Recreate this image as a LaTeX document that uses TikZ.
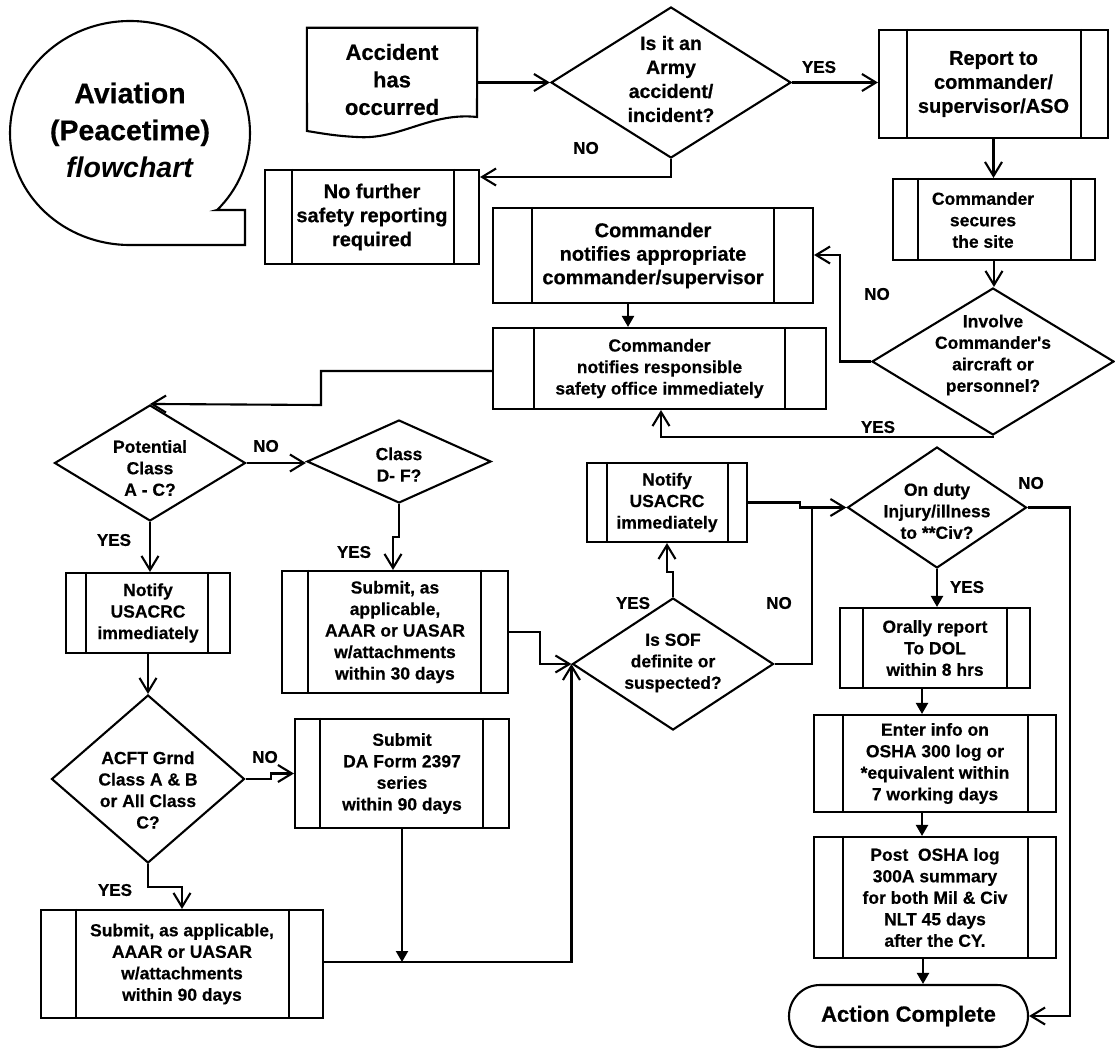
\documentclass[tikz,border=0pt]{standalone}
\usepackage{fontspec}
\setmainfont{Liberation Sans}[BoldFeatures={FakeBold=0.5}]
\usetikzlibrary{shapes.geometric,shapes.misc,arrows.meta}
\tikzset{
  ln/.style={line width=2.1pt},
  pbox/.style={draw, line width=2.1pt, rectangle, inner sep=0pt, align=center,
    font=\bfseries\fontsize{17.5}{21.5}\selectfont},
  bigtext/.style={font=\bfseries\fontsize{20}{24}\selectfont},
  dmd/.style={draw, line width=2.1pt, diamond, inner sep=0pt},
  dtext/.style={align=center, inner sep=0pt, font=\bfseries\fontsize{17.5}{21.5}\selectfont},
  lbl/.style={inner sep=0pt, font=\bfseries\fontsize{17}{20}\selectfont},
  varrow/.style={line width=2.1pt, -{Straight Barb[length=14pt,width=17pt]}},
  farrow/.style={line width=2.1pt, -{Triangle[length=11pt,width=12pt]}},
}
\newcommand\sidebars[3]{%
  \draw[ln] ([xshift=#2]#1.north west) -- ([xshift=#2]#1.south west);
  \draw[ln] ([xshift=-#3]#1.north east) -- ([xshift=-#3]#1.south east);}
\begin{document}
\begin{tikzpicture}[x=1pt,y=-1pt]
\fill[white] (0,0) rectangle (1115,1049);
\useasboundingbox (0,0) rectangle (1115,1049);

% speech bubble
\draw[ln] (217,210) -- (245,210) -- (245,245) -- (130,245)
  arc[start angle=270, end angle=-43.4, x radius=120pt, y radius=112pt] -- cycle;
\node[align=center, inner sep=0pt, font=\bfseries\fontsize{28.5}{37}\selectfont] (title) at (130,130)
  {Aviation\\(Peacetime)\\\textit{flowchart}};

% document shape
\node[minimum width=170pt, minimum height=103pt, inner sep=0pt, align=center,
  font=\bfseries\fontsize{22}{27.5}\selectfont] (acc) at (392,79.5) {Accident\\has\\occurred};
\draw[ln] (acc.north west) -- (acc.north east) -- (477,117)
  .. controls (430,112) and (400,140) .. (357,137)
  .. controls (335,136) and (320,133) .. (307,131) -- cycle;

% process boxes
\node[pbox, bigtext, minimum width=214pt, minimum height=94pt] (bNoFurther) at (372,217) {No further\\safety reporting\\required};
\sidebars{bNoFurther}{28pt}{26pt}
\node[pbox, bigtext, minimum width=229pt, minimum height=108pt] (bReport) at (993.5,84) {Report to\\commander/\\supervisor/ASO};
\sidebars{bReport}{29pt}{28pt}
\node[pbox, minimum width=202pt, minimum height=81pt] (bSecures) at (994,219.5) {};
\sidebars{bSecures}{26pt}{25pt}
\node[dtext] (bSecurest) at (983,220) {Commander\\secures\\the site};
\node[pbox, font=\bfseries\fontsize{20}{23.5}\selectfont, minimum width=320pt, minimum height=95pt] (bApprop) at (653,255.5) {Commander\\notifies appropriate\\commander/supervisor};
\sidebars{bApprop}{40pt}{40pt}
\node[pbox, minimum width=333pt, minimum height=81pt] (bResp) at (659.5,368.5) {Commander\\notifies responsible\\safety office immediately};
\sidebars{bResp}{42pt}{42pt}
\node[pbox, minimum width=164pt, minimum height=80pt] (bNotify1) at (148,613) {Notify\\USACRC\\immediately};
\sidebars{bNotify1}{21pt}{23pt}
\node[pbox, minimum width=226pt, minimum height=122pt] (bSub30) at (395,632) {Submit, as\\applicable,\\AAAR or UASAR\\w/attachments\\within 30 days};
\sidebars{bSub30}{27pt}{28pt}
\node[pbox, minimum width=214pt, minimum height=109pt] (bDA) at (402,773.5) {Submit\\DA Form 2397\\series\\within 90 days};
\sidebars{bDA}{26pt}{27pt}
\node[pbox, minimum width=282pt, minimum height=108pt] (bSub90) at (182,964) {Submit, as applicable,\\AAAR or UASAR\\w/attachments\\within 90 days};
\sidebars{bSub90}{36pt}{35pt}
\node[pbox, minimum width=160pt, minimum height=79pt] (bNotify2) at (667,502.5) {Notify\\USACRC\\immediately};
\sidebars{bNotify2}{21pt}{20pt}
\node[pbox, minimum width=190pt, minimum height=80pt] (bOrally) at (935,648) {Orally report\\To DOL\\within 8 hrs};
\sidebars{bOrally}{24pt}{24pt}
\node[pbox, minimum width=242pt, minimum height=97pt] (bEnter) at (935,763.5) {Enter info on\\OSHA 300 log or\\*equivalent within\\7 working days};
\sidebars{bEnter}{30pt}{29pt}
\node[pbox, minimum width=242pt, minimum height=121pt] (bPost) at (935,897.5) {Post\ \ OSHA log\\300A summary\\for both Mil \& Civ\\NLT 45 days\\after the CY.};
\sidebars{bPost}{30pt}{29pt}
\node[draw, ln, rounded rectangle, minimum width=239pt, minimum height=62pt, inner sep=0pt,
  font=\bfseries\fontsize{22}{26}\selectfont] (action) at (908.5,1016) {Action Complete};

% decisions
\node[dmd, minimum width=240pt, minimum height=151pt] (d1) at (671,82.5) {};
\node[dtext, font=\bfseries\fontsize{19.5}{24}\selectfont] (d1t) at (671,79) {Is it an\\Army\\accident/\\incident?};
\node[dmd, minimum width=242pt, minimum height=147pt] (dInv) at (993,361.5) {};
\node[dtext] (dInvt) at (993,355) {Involve\\Commander\textquotesingle s\\aircraft or\\personnel?};
\node[dmd, minimum width=191pt, minimum height=116pt] (dPot) at (150,463) {};
\node[dtext] (dPott) at (150,468) {Potential\\Class\\A - C?};
\node[dmd, minimum width=184pt, minimum height=83pt] (dDF) at (399,461.5) {};
\node[dtext] (dDFt) at (399,464.5) {Class\\D- F?};
\node[dmd, minimum width=193pt, minimum height=168pt] (dACFT) at (148,779) {};
\node[dtext] (dACFTt) at (148,790) {ACFT Grnd\\Class A \& B\\or All Class\\C?};
\node[dmd, minimum width=201pt, minimum height=132pt] (dSOF) at (673,664) {};
\node[dtext] (dSOFt) at (673,663) {Is SOF\\definite or\\suspected?};
\node[dmd, minimum width=179pt, minimum height=121pt] (dDuty) at (937,507.5) {};
\node[dtext] (dDutyt) at (937,511) {On duty\\Injury/illness\\to **Civ?};

% labels
\node[lbl] (l1) at (586,148) {NO};
\node[lbl] (l2) at (819,67) {YES};
\node[lbl] (l3) at (877,294) {NO};
\node[lbl] (l4) at (878,427) {YES};
\node[lbl] (l5) at (266,446) {NO};
\node[lbl] (l6) at (114,540) {YES};
\node[lbl] (l7) at (354,552) {YES};
\node[lbl] (l8) at (265,757) {NO};
\node[lbl] (l9) at (115,890) {YES};
\node[lbl] (l10) at (633,603) {YES};
\node[lbl] (l11) at (779,603) {NO};
\node[lbl] (l12) at (1031,483) {NO};
\node[lbl] (l13) at (967,587) {YES};

% connectors
\draw[varrow] (acc.east |- d1.west) -- (d1.west);
\draw[varrow] (d1.east) -- (d1.east -| bReport.west);
\draw[varrow] (d1.south) |- (bNoFurther.east |- 0,177);
\draw[varrow] (bReport.south) -- (bReport.south |- bSecures.north);
\draw[varrow] (bSecures.south) -- (bSecures.south |- dInv.north);
\draw[varrow] (dInv.west) -| (840,255) -- (bApprop.east |- 0,255);
\draw[varrow] (dInv.south) -- (dInv.south |- 0,437) -| (bResp.south -| 661,0);
\draw[farrow] (bApprop.south -| 628,0) -- (bResp.north -| 628,0);
\draw[varrow] (bResp.west |- 0,371) -| (321,405) -- (dPot.north);
\draw[varrow] (dPot.east) -- (dPot.east -| dDF.west);
\draw[varrow] (dDF.south) -- (399,537) -| (bSub30.north -| 393,0);
\draw[varrow] (dPot.south) -- (dPot.south |- bNotify1.north);
\draw[varrow] (bNotify1.south) -- (bNotify1.south |- dACFT.north);
\draw[varrow] (dACFT.east) -- (271,779) |- (bDA.west);
\draw[varrow] (dACFT.south) |- (182,887) -- (bSub90.north);
\coordinate (j90) at (402,962);
\draw[farrow] (bDA.south) -- (j90);
\draw[varrow] (bSub90.east |- 0,962) -| (dSOF.west);
\draw[varrow] (bSub30.east) -- (540,632) |- (dSOF.west);
\draw[varrow] (dSOF.north) -- (673,572) -| (bNotify2.south);
\draw[varrow] (bNotify2.east) -- (800,502.5) |- (dDuty.west);
\draw[ln] (dSOF.east) -| (812,507.5);
\draw[farrow] (dDuty.south) -- (dDuty.south |- bOrally.north);
\draw[farrow] (bOrally.south -| 922,0) -- (bEnter.north -| 922,0);
\draw[farrow] (bEnter.south -| 922,0) -- (bPost.north -| 922,0);
\draw[farrow] (bPost.south -| 923,0) -- (action.north -| 923,0);
\draw[varrow] (dDuty.east) -| (1070,1016) -- (action.east);
\end{tikzpicture}
\end{document}
